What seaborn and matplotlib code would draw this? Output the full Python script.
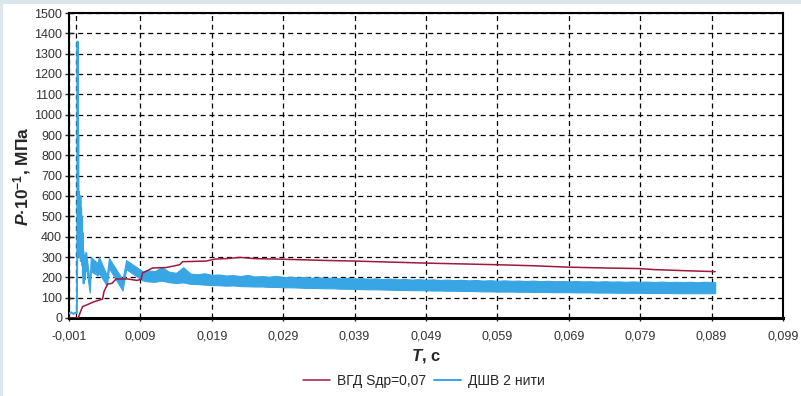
import matplotlib
matplotlib.use("Agg")
import matplotlib.pyplot as plt
import seaborn as sns
import numpy as np
import pandas as pd

# ---------------- data ----------------
red_label = "ВГД Sдр=0,07"
blue_label = "ДШВ 2 нити"

red_t = [-0.001, 0.0003, 0.0006, 0.0009, 0.0016, 0.0025, 0.0037, 0.0039, 0.0044, 0.0050,
         0.0056, 0.0072, 0.0085, 0.0091, 0.0093, 0.0107, 0.0126, 0.0145, 0.0149, 0.0182,
         0.0195, 0.0210, 0.0230, 0.0250, 0.0280, 0.0310, 0.0350, 0.0390, 0.0440, 0.0490,
         0.0540, 0.0590, 0.0640, 0.0690, 0.0740, 0.0790, 0.0810, 0.0850, 0.0895]
red_v = [0, 0, 30, 56, 66, 80, 93, 130, 167, 170,
         192, 192, 185, 190, 221, 246, 248, 262, 277, 280,
         290, 292, 298, 292, 290, 287, 283, 280, 275, 270,
         266, 262, 257, 250, 246, 243, 238, 233, 228]

# early blue trace (spike and first oscillations)
blue_t = [-0.001, -0.0007, -0.0004, -0.0001, 0.0001, 0.00015, 0.0002, 0.00025, 0.0003, 0.00035,
          0.0004, 0.00045, 0.0005, 0.00055, 0.0006, 0.00065, 0.0007, 0.00075, 0.0008, 0.00085,
          0.0009, 0.00095, 0.0010, 0.00105, 0.0011, 0.00115, 0.0012, 0.00125, 0.0013, 0.00135,
          0.0014]
blue_v = [22, 28, 20, 26, 24, 300, 1360, 700, 900, 420,
          620, 300, 560, 350, 600, 280, 540, 320, 500, 260,
          420, 200, 330, 170, 300, 210, 280, 190, 310, 230,
          320]

# blue noisy band: time, lower and upper envelope
band_t = [0.0014, 0.0019, 0.00205, 0.0030, 0.0032, 0.0043, 0.0046, 0.0065, 0.0070, 0.0093,
          0.010, 0.011, 0.012, 0.013, 0.014, 0.015, 0.016, 0.017, 0.018, 0.019,
          0.020, 0.021, 0.022, 0.023, 0.024, 0.025, 0.026, 0.027, 0.028, 0.029,
          0.030, 0.031, 0.032, 0.033, 0.034, 0.035, 0.036, 0.037, 0.038, 0.039,
          0.040, 0.041, 0.042, 0.043, 0.044, 0.045, 0.046, 0.047, 0.048, 0.049,
          0.050, 0.051, 0.052, 0.053, 0.054, 0.055, 0.056, 0.057, 0.058, 0.059,
          0.060, 0.061, 0.062, 0.063, 0.064, 0.065, 0.066, 0.067, 0.068, 0.069,
          0.070, 0.071, 0.072, 0.073, 0.074, 0.075, 0.076, 0.077, 0.078, 0.079,
          0.080, 0.081, 0.082, 0.083, 0.084, 0.085, 0.086, 0.087, 0.088, 0.089, 0.0895]
band_lo = [250, 125, 230, 210, 220, 160, 245, 135, 240, 185,
           180, 178, 184, 176, 172, 175, 168, 167, 164, 162,
           161, 159, 160, 157, 156, 155, 155, 153, 153, 151,
           151, 150, 148, 148, 147, 146, 146, 144, 144, 143,
           142, 141, 141, 140, 139, 138, 138, 137, 137, 136,
           135, 135, 134, 134, 133, 133, 132, 131, 131, 130,
           130, 130, 129, 129, 128, 128, 128, 127, 127, 127,
           126, 126, 126, 125, 125, 125, 124, 124, 124, 124,
           123, 123, 123, 123, 122, 122, 122, 122, 122, 122, 123]
band_hi = [320, 180, 300, 270, 300, 210, 295, 190, 285, 230,
           235, 230, 250, 228, 222, 250, 218, 215, 220, 212,
           214, 209, 211, 206, 212, 204, 206, 203, 207, 201,
           203, 200, 202, 198, 200, 197, 199, 195, 198, 194,
           196, 193, 195, 191, 194, 190, 192, 189, 191, 188,
           190, 187, 189, 186, 188, 185, 187, 184, 186, 183,
           185, 183, 184, 182, 184, 181, 183, 181, 182, 180,
           182, 180, 181, 179, 181, 179, 180, 178, 180, 178,
           179, 177, 179, 177, 178, 177, 178, 176, 178, 177, 176]

x_ticks = [-0.001, 0.009, 0.019, 0.029, 0.039, 0.049, 0.059, 0.069, 0.079, 0.089, 0.099]
y_ticks = list(range(0, 1501, 100))

RED = "#a0183c"
BLUE = "#38a6e4"

# ---------------- style ----------------
sns.set_style("white")
plt.rcParams["font.family"] = ["Liberation Sans", "DejaVu Sans"]
plt.rcParams["mathtext.fontset"] = "custom"
plt.rcParams["mathtext.rm"] = "Liberation Sans"
plt.rcParams["mathtext.it"] = "Liberation Sans:italic"
plt.rcParams["mathtext.bf"] = "Liberation Sans:bold"
plt.rcParams["mathtext.bfit"] = "Liberation Sans:italic:bold"

fig = plt.figure(figsize=(8.01, 3.96), dpi=100)
fig.patch.set_facecolor("#dbe5ee")
bg = fig.add_axes([3 / 801, 0, 1 - 3 / 801, 1 - 4 / 396], zorder=-5)
bg.set_axis_off()
bg.add_artist(plt.Rectangle((0, 0), 1, 1, transform=bg.transAxes, facecolor="white",
                            edgecolor="none"))

ax = fig.add_axes([69 / 801, 1 - 318 / 396, (783 - 69) / 801, (318 - 13) / 396], zorder=2)
ax.set_facecolor("white")

df_red = pd.DataFrame({"t": red_t, "P": red_v})
df_blue = pd.DataFrame({"t": blue_t, "P": blue_v})

ax.fill_between(band_t, band_lo, band_hi, color=BLUE, linewidth=0.8, edgecolor=BLUE, zorder=3)
sns.lineplot(data=df_blue, x="t", y="P", ax=ax, color=BLUE, linewidth=1.4, zorder=3,
             label=blue_label, legend=False)
sns.lineplot(data=df_red, x="t", y="P", ax=ax, color=RED, linewidth=1.1, zorder=4,
             label=red_label, legend=False)

ax.set_xlim(-0.001, 0.099)
ax.set_ylim(0, 1500)
ax.set_xticks(x_ticks)
ax.set_xticklabels([f"{v:.3f}".replace(".", ",") for v in x_ticks], fontsize=9, color="#333333")
ax.set_yticks(y_ticks)
ax.set_yticklabels([str(v) for v in y_ticks], fontsize=9, color="#333333")
ax.grid(True, color="black", linestyle=(0, (4, 3)), linewidth=0.9)
ax.axvline(0.0, color="black", linestyle=(0, (4, 3)), linewidth=0.9, zorder=1)
ax.tick_params(axis="y", direction="inout", length=6, width=1, pad=2, left=True)
ax.tick_params(axis="x", direction="out", length=2, width=1, pad=7, bottom=True)
for s in ["top", "right", "left"]:
    ax.spines[s].set_linewidth(1.5)
    ax.spines[s].set_color("black")
ax.spines["bottom"].set_linewidth(2.2)
ax.spines["bottom"].set_color("black")

ax.set_xlabel(r"$\mathbfit{T}$, с", fontsize=12, fontweight="bold", labelpad=3)
ax.set_ylabel(r"$\mathbfit{P}$·10$^{\mathbf{-1}}$, МПа", fontsize=12.5, fontweight="bold")
ax.yaxis.set_label_coords(-0.05, 0.465)

handles, labels = ax.get_legend_handles_labels()
order = [labels.index(red_label), labels.index(blue_label)]
fig.legend([handles[i] for i in order], [labels[i] for i in order], loc="center",
           bbox_to_anchor=(424 / 801, 1 - 381 / 396), ncol=2, frameon=False, fontsize=10,
           handlelength=1.9, columnspacing=0.6, handletextpad=0.5)

fig.savefig("out.png", dpi=100, facecolor=fig.get_facecolor())
